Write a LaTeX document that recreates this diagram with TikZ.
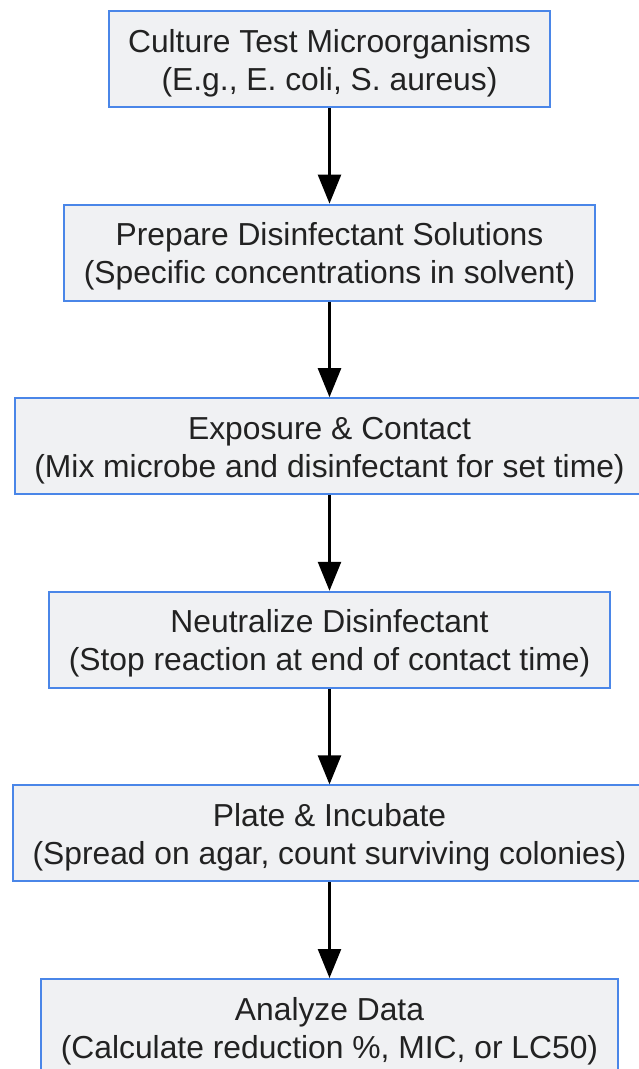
\documentclass[tikz,border=0pt]{standalone}
\usepackage{fontspec}
\setmainfont{Liberation Sans}
\usetikzlibrary{positioning,arrows.meta}
\definecolor{stepblue}{RGB}{74,134,232}
\definecolor{stepfill}{RGB}{240,241,243}
\definecolor{steptext}{RGB}{34,34,34}
\begin{document}
\begin{tikzpicture}[x=1pt, y=1pt, node distance=95.6pt,
	every node/.style = {shape=rectangle, draw=stepblue, line width=2pt,
		fill=stepfill, text=steptext, align=center,
		minimum height=96pt, inner xsep=19.5pt,
		text height=62pt, text depth=0pt,
		font=\fontsize{31.8}{38}\selectfont},
	flow/.style = {draw, line width=2.5pt, -{Triangle[length=29pt, width=23pt]}}]
	\useasboundingbox (0,0) rectangle (639,-1069);
	\node (culture) at (329.5,-59) {Culture Test Microorganisms\\(E.g., E. coli, S. aureus)};
	\node (prepare) [below=of culture] {Prepare Disinfectant Solutions\\(Specific concentrations in solvent)};
	\node (expose) [below=of prepare] {Exposure \& Contact\\(Mix microbe and disinfectant for set time)};
	\node (neutral) [below=of expose] {Neutralize Disinfectant\\(Stop reaction at end of contact time)};
	\node (plate) [below=of neutral] {Plate \& Incubate\\(Spread on agar, count surviving colonies)};
	\node (analyze) [below=of plate] {Analyze Data\\(Calculate reduction \%, MIC, or LC50)};
	% arrows between steps
	\draw[flow] (culture) -- (prepare);
	\draw[flow] (prepare) -- (expose);
	\draw[flow] (expose) -- (neutral);
	\draw[flow] (neutral) -- (plate);
	\draw[flow] (plate) -- (analyze);
\end{tikzpicture}
\end{document}
